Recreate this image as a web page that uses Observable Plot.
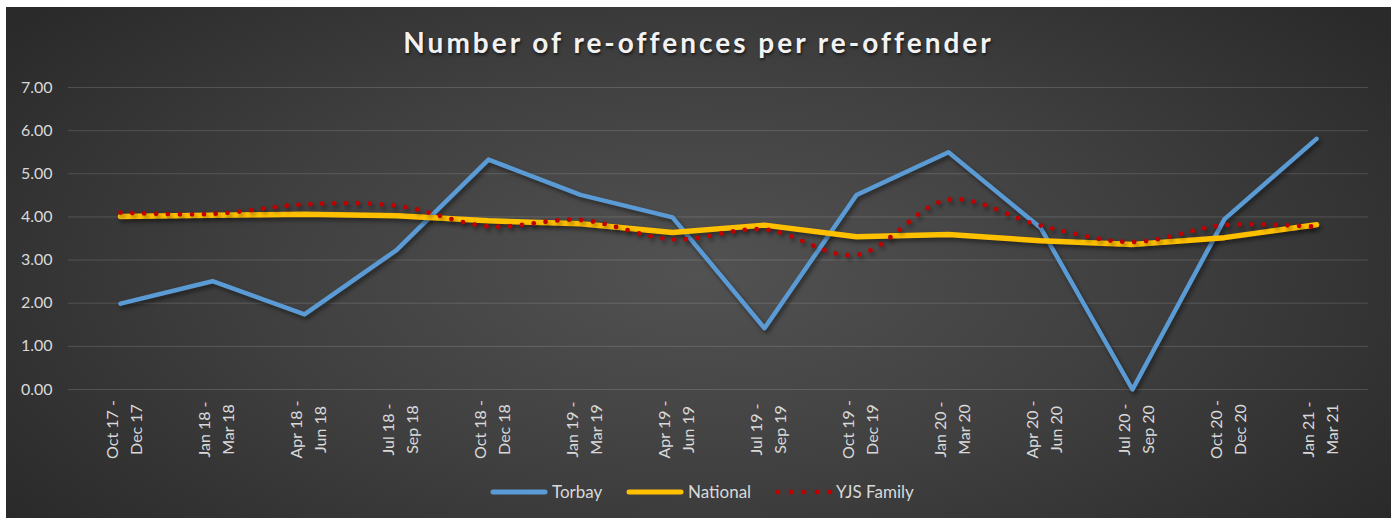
<!DOCTYPE html>
<html>
<head>
<meta charset="utf-8">
<script src="https://cdn.jsdelivr.net/npm/d3@7"></script>
<script src="https://cdn.jsdelivr.net/npm/@observablehq/plot@0.6"></script>
<style>
  html, body { margin: 0; padding: 0; background: #ffffff; }
  #chart {
    position: absolute; left: 6px; top: 7px; width: 1385px; height: 511px; overflow: hidden;
    background: radial-gradient(ellipse 62% 80% at 50% 52%, #525252 0%, #404040 50%, #2a2a2a 100%);
    font-family: Lato, "Open Sans", sans-serif;
  }
  #title {
    position: absolute; left: 0; top: 21px; width: 100%; text-align: center;
    font-size: 28px; line-height: 28px; font-weight: bold; color: #f2f2f2;
    letter-spacing: 3px; text-shadow: 1px 2px 3px rgba(0,0,0,0.6);
  }
  #plot { position: absolute; left: 0; top: 60px; }
  #plot svg g[aria-label="line"] path { filter: drop-shadow(2px 3px 2px rgba(0,0,0,0.45)); }
  #legend { position: absolute; left: 0; top: 474px; width: 100%; height: 22px; font-size: 17px; color: #d9d9d9; }
  .sw { position: absolute; top: 6px; }
  .lt { position: absolute; top: 0; line-height: 22px; white-space: nowrap; }
</style>
</head>
<body>
<div id="chart">
  <div id="title">Number of re-offences per re-offender</div>
  <div id="plot"></div>
  <div id="legend"></div>
</div>
<script>
const periods = [
  "Oct 17 -\nDec 17", "Jan 18 -\nMar 18", "Apr 18 -\nJun 18", "Jul 18 -\nSep 18",
  "Oct 18 -\nDec 18", "Jan 19 -\nMar 19", "Apr 19 -\nJun 19", "Jul 19 -\nSep 19",
  "Oct 19 -\nDec 19", "Jan 20 -\nMar 20", "Apr 20 -\nJun 20", "Jul 20 -\nSep 20",
  "Oct 20 -\nDec 20", "Jan 21 -\nMar 21"
];
const torbay   = [1.99, 2.51, 1.74, 3.23, 5.33, 4.51, 3.99, 1.42, 4.51, 5.50, 3.75, 0.00, 3.95, 5.81];
const national = [4.01, 4.04, 4.06, 4.03, 3.91, 3.84, 3.64, 3.81, 3.54, 3.59, 3.45, 3.36, 3.52, 3.82];
const yjsFamily= [4.10, 4.07, 4.29, 4.26, 3.78, 3.93, 3.48, 3.71, 3.12, 4.40, 3.80, 3.42, 3.81, 3.77];
const yTicks = [0, 1, 2, 3, 4, 5, 6, 7];
const seriesNames = ["Torbay", "National", "YJS Family"];
const seriesColors = ["#5b9bd5", "#ffc000", "#c00000"];

const rows = (vals) => periods.map((p, i) => ({period: p, value: vals[i]}));

const chart = Plot.plot({
  width: 1385,
  height: 400,
  marginLeft: 62,
  marginRight: 23,
  marginTop: 20,
  marginBottom: 78,
  style: {background: "transparent", color: "#d9d9d9", fontFamily: "Lato, 'Open Sans', sans-serif", fontSize: "16px", overflow: "visible"},
  x: {type: "point", domain: periods, padding: 0.5, axis: null},
  y: {domain: [0, 7], axis: null},
  marks: [
    Plot.ruleY(yTicks, {stroke: "#ffffff", strokeOpacity: 0.15, strokeWidth: 1}),
    Plot.axisY(yTicks, {tickSize: 0, tickPadding: 16, tickFormat: d => d.toFixed(2), fontSize: 16, fill: "#d9d9d9", label: null}),
    Plot.text(periods, {x: d => d, text: d => d, frameAnchor: "bottom", dy: 40, dx: 2, rotate: -90,
      textAnchor: "middle", lineAnchor: "middle", lineHeight: 1.5, fontSize: 16, fill: "#d9d9d9"}),
    Plot.line(rows(torbay), {x: "period", y: "value", stroke: seriesColors[0], strokeWidth: 4.5,
      strokeLinecap: "round", strokeLinejoin: "round"}),
    Plot.line(rows(national), {x: "period", y: "value", stroke: seriesColors[1], strokeWidth: 5.5,
      strokeLinecap: "round", strokeLinejoin: "round"}),
    Plot.line(rows(yjsFamily), {x: "period", y: "value", stroke: seriesColors[2], strokeWidth: 4.8,
      strokeLinecap: "round", strokeDasharray: "0,11.9", curve: "catmull-rom"})
  ]
});
document.getElementById("plot").appendChild(chart);

// legend (positions in container pixels)
const legend = d3.select("#legend");
const swatchLeft = [484, 620, 769];
const textLeft = [546, 682, 830];
seriesNames.forEach((name, i) => {
  const svg = legend.append("svg").attr("class", "sw").attr("width", 60).attr("height", 10)
    .style("left", swatchLeft[i] + "px");
  const ln = svg.append("line").attr("y1", 5).attr("y2", 5)
    .attr("stroke", seriesColors[i]).attr("stroke-linecap", "round");
  if (i === 2) ln.attr("x1", 3).attr("x2", 56).attr("stroke-width", 4.8).attr("stroke-dasharray", "0,13");
  else ln.attr("x1", 3).attr("x2", 55).attr("stroke-width", 5);
  legend.append("div").attr("class", "lt").style("left", textLeft[i] + "px").text(name);
});
</script>
</body>
</html>
